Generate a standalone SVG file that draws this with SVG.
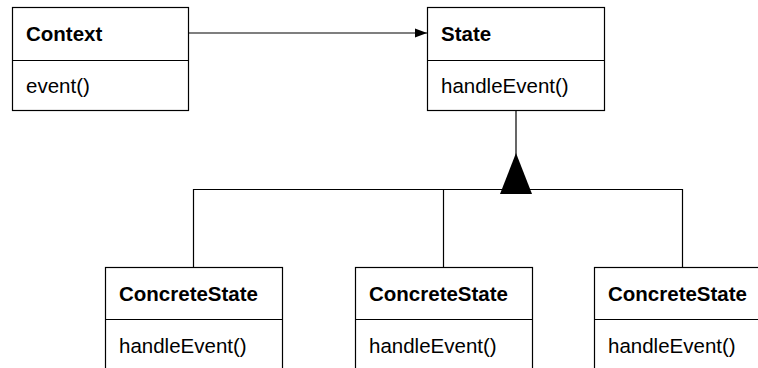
<svg xmlns="http://www.w3.org/2000/svg" width="758" height="368" viewBox="0 0 758 368">
  <style>
    .box { fill: #ffffff; stroke: #000000; stroke-width: 1.2; }
    .sep { stroke: #000000; stroke-width: 1.2; }
    .title { font-family: "Liberation Sans", Arial, sans-serif; font-size: 20.5px; font-weight: bold; fill: #000000; }
    .op { font-family: "Liberation Sans", Arial, sans-serif; font-size: 20.5px; fill: #000000; }
    .wire { fill: none; stroke: #000000; stroke-width: 1.2; }
  </style>
  <defs>
    <marker id="arrow" markerUnits="userSpaceOnUse" markerWidth="12" markerHeight="10" refX="12" refY="5" orient="auto">
      <path d="M0,0.5 L12,5 L0,9.5 Z" fill="#000000"/>
    </marker>
  </defs>
  <rect width="758" height="368" fill="#ffffff"/>

  <g id="connectors">
    <!-- association Context -> State -->
    <line x1="188.5" y1="33" x2="427" y2="33" class="wire" stroke-width="1.6" marker-end="url(#arrow)"/>
    <!-- generalization tree -->
    <line x1="516" y1="111" x2="516" y2="156" class="wire" stroke-width="2"/>
    <polyline points="193.5,267.5 193.5,189.5 682.5,189.5 682.5,267.5" class="wire"/>
    <line x1="443.5" y1="189.5" x2="443.5" y2="267.5" class="wire"/>
    <polygon points="516,153 500,194 532,194" fill="#000000"/>
  </g>

  <g id="context">
    <rect x="12.5" y="7.5" width="176" height="103" class="box"/>
    <line x1="12.5" y1="60.5" x2="188.5" y2="60.5" class="sep"/>
    <text x="26" y="41" class="title">Context</text>
    <text x="26" y="93" class="op">event()</text>
  </g>

  <g id="state">
    <rect x="427.5" y="7.5" width="177" height="103" class="box"/>
    <line x1="427.5" y1="60.5" x2="604.5" y2="60.5" class="sep"/>
    <text x="441" y="41" class="title">State</text>
    <text x="441" y="93" class="op">handleEvent()</text>
  </g>

  <g id="concrete-state-1">
    <rect x="105.5" y="267.5" width="177" height="110" class="box"/>
    <line x1="105.5" y1="319.5" x2="282.5" y2="319.5" class="sep"/>
    <text x="119" y="301" class="title">ConcreteState</text>
    <text x="119" y="353" class="op">handleEvent()</text>
  </g>

  <g id="concrete-state-2">
    <rect x="355.5" y="267.5" width="177" height="110" class="box"/>
    <line x1="355.5" y1="319.5" x2="532.5" y2="319.5" class="sep"/>
    <text x="369" y="301" class="title">ConcreteState</text>
    <text x="369" y="353" class="op">handleEvent()</text>
  </g>

  <g id="concrete-state-3">
    <rect x="594.5" y="267.5" width="177" height="110" class="box"/>
    <line x1="594.5" y1="319.5" x2="771.5" y2="319.5" class="sep"/>
    <text x="608" y="301" class="title">ConcreteState</text>
    <text x="608" y="353" class="op">handleEvent()</text>
  </g>
</svg>
